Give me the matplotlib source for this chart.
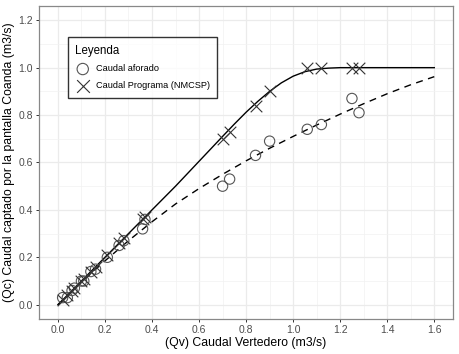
import matplotlib
matplotlib.use("Agg")
import matplotlib.pyplot as plt
from matplotlib.ticker import MultipleLocator

plt.rcParams['font.family'] = ['Liberation Sans', 'DejaVu Sans']

# puntos medidos
qv = [0.02, 0.04, 0.06, 0.07, 0.10, 0.11, 0.14, 0.16, 0.21, 0.26, 0.28,
      0.36, 0.37, 0.70, 0.73, 0.84, 0.90, 1.06, 1.12, 1.25, 1.28]
qc_aforado = [0.03, 0.03, 0.06, 0.07, 0.10, 0.10, 0.14, 0.15, 0.20, 0.25, 0.27,
              0.32, 0.36, 0.50, 0.53, 0.63, 0.69, 0.74, 0.76, 0.87, 0.81]
qc_programa = [0.02, 0.04, 0.06, 0.07, 0.10, 0.11, 0.14, 0.16, 0.21, 0.26, 0.28,
               0.36, 0.37, 0.70, 0.73, 0.84, 0.90, 1.00, 1.00, 1.00, 1.00]

# curvas de ajuste
x_prog = [0.0, 0.1, 0.2, 0.3, 0.4, 0.5, 0.6, 0.7, 0.75, 0.8, 0.85, 0.9,
          0.95, 1.0, 1.05, 1.1, 1.15, 1.2, 1.25, 1.4, 1.6]
y_prog = [0.0, 0.10, 0.20, 0.30, 0.40, 0.50, 0.605, 0.71, 0.762, 0.812,
          0.858, 0.9, 0.936, 0.964, 0.983, 0.994, 0.998, 1.0, 1.0, 1.0, 1.0]
x_afor = [0.0, 0.1, 0.2, 0.3, 0.4, 0.5, 0.6, 0.7, 0.8, 0.9, 1.0, 1.1,
          1.2, 1.3, 1.4, 1.5, 1.6]
y_afor = [0.0, 0.095, 0.185, 0.27, 0.35, 0.425, 0.49, 0.55, 0.607, 0.66,
          0.71, 0.758, 0.804, 0.848, 0.89, 0.928, 0.962]

fig = plt.figure(figsize=(4.6, 3.54), dpi=100)
ax = fig.add_axes([0.085, 0.099, 0.9, 0.884])

ax.plot(x_prog, y_prog, color='black', lw=1.0, zorder=3)
ax.plot(x_afor, y_afor, color='black', lw=1.0, ls=(0, (5, 4)), zorder=3)
ax.scatter(qv, qc_aforado, s=55, facecolors='none', edgecolors='#555555',
           linewidths=0.8, zorder=4, label='Caudal aforado')
ax.scatter(qv, qc_programa, s=70, marker='x', color='#333333',
           linewidths=0.8, zorder=4, label='Caudal Programa (NMCSP)')

ax.set_xlim(-0.08, 1.68)
ax.set_ylim(-0.06, 1.26)
ax.xaxis.set_major_locator(MultipleLocator(0.2))
ax.yaxis.set_major_locator(MultipleLocator(0.2))
ax.xaxis.set_minor_locator(MultipleLocator(0.1))
ax.yaxis.set_minor_locator(MultipleLocator(0.1))
ax.xaxis.set_major_formatter(plt.FuncFormatter(lambda v, p: '%.1f' % v))
ax.yaxis.set_major_formatter(plt.FuncFormatter(lambda v, p: '%.1f' % v))

ax.grid(which='major', color='#EBEBEB', lw=0.9, zorder=0)
ax.grid(which='minor', color='#F2F2F2', lw=0.5, zorder=0)
ax.set_axisbelow(True)
for s in ax.spines.values():
    s.set_color('#888888')
    s.set_linewidth(0.9)
ax.tick_params(which='major', length=2.5, width=0.7, color='#333333',
               labelsize=7.5, labelcolor='#4D4D4D', pad=2)
ax.tick_params(which='minor', length=0)

ax.set_xlabel('(Qv) Caudal Vertedero (m3/s)', fontsize=8.8, labelpad=1)
ax.set_ylabel('(Qc) Caudal captado por la pantalla Coanda (m3/s)', fontsize=8.8, labelpad=2)

leg = ax.legend(title='Leyenda', loc='upper left', bbox_to_anchor=(0.07, 0.90),
                borderaxespad=0, fontsize=6.6, title_fontsize=8.3, frameon=True,
                fancybox=False, edgecolor='black', borderpad=0.8,
                labelspacing=0.85, handlelength=1.6, handletextpad=0.6,
                markerscale=1.1)
leg._legend_box.align = 'left'
leg.get_frame().set_linewidth(1.0)

fig.savefig('out.png', dpi=100)
